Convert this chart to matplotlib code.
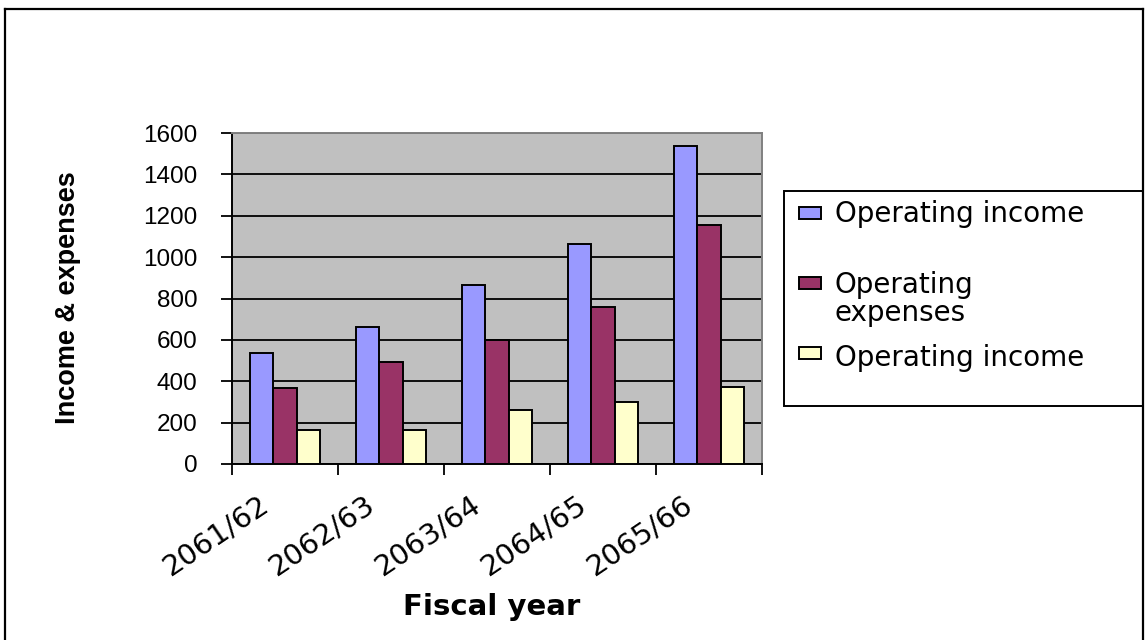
import matplotlib
matplotlib.use("Agg")
import matplotlib.pyplot as plt
import numpy as np
from matplotlib.patches import Rectangle
from matplotlib.lines import Line2D
from matplotlib.transforms import ScaledTranslation

years = ["2061/62", "2062/63", "2063/64", "2064/65", "2065/66"]
operating_income = [535, 663, 865, 1065, 1535]
operating_expenses = [367, 494, 600, 760, 1154]
operating_net = [163, 163, 260, 300, 373]

series_labels = [["Operating income"], ["Operating", "expenses"], ["Operating income"]]
series_colors = ["#9999FF", "#993366", "#FFFFCC"]

W, H = 1146, 640
fig = plt.figure(figsize=(W / 100, H / 100), dpi=100)


def fx(px):
    return px / W


def fy(py):
    return 1 - py / H


sans = ["Liberation Sans", "DejaVu Sans"]

# outer chart frame (bottom edge falls outside the canvas)
for xs, ys in [([5, 5], [9, 660]), ([5, 1143], [9, 9]), ([1143, 1143], [9, 660])]:
    fig.add_artist(Line2D([fx(x) for x in xs], [fy(y) for y in ys],
                          color="black", linewidth=1.6, clip_on=False))

ax = fig.add_axes([fx(232), fy(464), fx(762) - fx(232), fy(133) - fy(464)])
ax.set_facecolor("#C0C0C0")

x = np.arange(len(years))
width = 0.22
for offset, values, color in zip([-width, 0, width],
                                 [operating_income, operating_expenses, operating_net],
                                 series_colors):
    ax.bar(x + offset, values, width=width, color=color, edgecolor="black",
           linewidth=1.4, zorder=3)

ax.set_xlim(-0.5, len(years) - 0.5)
ax.set_ylim(0, 1600)
ax.set_yticks(np.arange(0, 1601, 200))
ax.yaxis.grid(True, color="black", linewidth=1.3, zorder=1)
ax.set_axisbelow(True)

# tick marks sit between categories, labels are placed under each group
ax.set_xticks(np.arange(-0.5, len(years)), labels=[])
ax.tick_params(axis="x", direction="out", length=8, width=1.3)
ax.tick_params(axis="y", direction="out", length=8, width=1.3, pad=17)
for lab in ax.get_yticklabels():
    lab.set_fontsize(17.5)
    lab.set_family(sans)

shift = ScaledTranslation(-0.27, -0.26, fig.dpi_scale_trans)
for xi, year in zip(x, years):
    ax.text(xi, 0, year, transform=ax.get_xaxis_transform() + shift,
            rotation=34, rotation_mode="anchor", ha="right", va="top",
            fontsize=21, family="DejaVu Sans")

for side in ["left", "bottom"]:
    ax.spines[side].set_color("black")
    ax.spines[side].set_linewidth(1.4)
for side in ["top", "right"]:
    ax.spines[side].set_color("#808080")
    ax.spines[side].set_linewidth(1.4)

fig.text(fx(68), fy(298), "Income & expenses", rotation=90, ha="center", va="center",
         fontsize=19.5, fontweight="bold", family=sans)
fig.text(fx(492), fy(607), "Fiscal year", ha="center", va="center",
         fontsize=21, fontweight="bold", family="DejaVu Sans")

# legend box
fig.add_artist(Rectangle((fx(784), fy(406)), fx(1143) - fx(784), fy(191) - fy(406),
                         facecolor="white", edgecolor="black", linewidth=1.4))
handle_rows = [213, 283, 353]
text_baselines = [[222], [293, 321], [366]]
for row, lines, baselines, color in zip(handle_rows, series_labels, text_baselines,
                                        series_colors):
    fig.add_artist(Rectangle((fx(799), fy(row + 6)), fx(22), 12 / H,
                             facecolor=color, edgecolor="black", linewidth=1.4))
    for line, base in zip(lines, baselines):
        fig.text(fx(835), fy(base), line, ha="left", va="baseline", fontsize=20,
                 family="DejaVu Sans")

fig.savefig("out.png", dpi=100)
